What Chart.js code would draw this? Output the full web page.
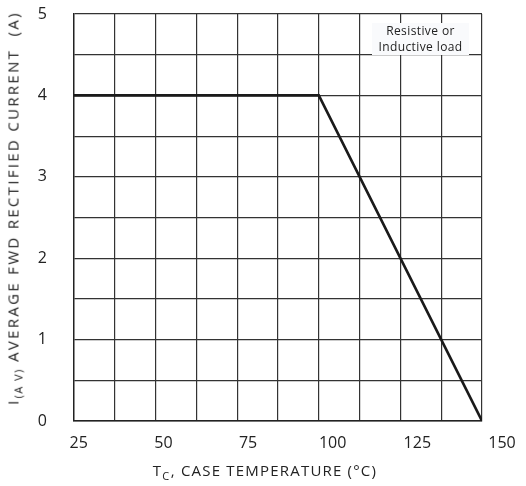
<!DOCTYPE html>
<html>
<head>
<meta charset="utf-8">
<script src="https://cdn.jsdelivr.net/npm/chart.js@4.4.1/dist/chart.umd.min.js"></script>
<style>
  body { margin: 0; background: #fff; }
  #wrap { position: relative; width: 526px; height: 486px; font-family: "Open Sans", sans-serif; color: #222; }
  #c { position: absolute; left: 0; top: 0; }
  .ytitle {
    position: absolute; left: 14px; top: 208px;
    transform: translate(-50%, -50%) rotate(-90deg);
    white-space: nowrap; font-size: 15px; letter-spacing: 2.3px;
  }
  .xtitle {
    position: absolute; left: 265px; top: 471px;
    transform: translate(-50%, -50%);
    white-space: nowrap; font-size: 15px; letter-spacing: 1.2px;
  }
  sub { font-size: 11px; letter-spacing: 1.5px; }
  .note {
    position: absolute; left: 372px; top: 23px; width: 97px; height: 32px;
    background: #f9fafc; font-size: 12px; line-height: 16px; text-align: center;
    letter-spacing: 0.4px;
  }
</style>
</head>
<body>
<div id="wrap">
  <canvas id="c" width="526" height="486"></canvas>
  <div class="ytitle">I<sub>(A V)</sub> AVERAGE FWD RECTIFIED CURRENT&nbsp; (A)</div>
  <div class="xtitle">T<sub>C</sub>, CASE TEMPERATURE (°C)</div>
  <div class="note">Resistive or<br>Inductive load</div>
</div>
<script>
// derating curve
const caseTemp = [25, 100, 150];
const avgCurrent = [4, 4, 0];

// tick labels printed under the plot
const xTickLabels = [25, 50, 75, 100, 125, 150];
const yTickLabels = [0, 1, 2, 3, 4, 5];

const points = caseTemp.map((t, i) => ({ x: t, y: avgCurrent[i] }));

const ctx = document.getElementById('c').getContext('2d');

new Chart(ctx, {
  type: 'line',
  data: {
    datasets: [{
      data: points,
      borderColor: '#1a1a1a',
      borderWidth: 2.6,
      pointRadius: 0,
      tension: 0,
      fill: false
    }]
  },
  options: {
    responsive: false,
    animation: false,
    layout: { padding: { top: 14, right: 44, left: 0, bottom: 0 } },
    plugins: { legend: { display: false }, tooltip: { enabled: false } },
    scales: {
      x: {
        type: 'linear',
        min: 25,
        max: 150,
        ticks: { display: false, stepSize: 12.5 },
        grid: { color: '#333', lineWidth: 1.2, drawTicks: false },
        border: { color: '#222', width: 1.4 },
        afterFit: s => { s.height = 0; s.paddingLeft = 0; s.paddingRight = 0; }
      },
      // labels only, spaced like the printed ones
      xLabels: {
        type: 'linear',
        position: 'bottom',
        min: 23.6,
        max: 144.1,
        afterBuildTicks: s => { s.ticks = xTickLabels.map(v => ({ value: v })); },
        ticks: {
          autoSkip: false,
          maxRotation: 0,
          padding: 13,
          color: '#222',
          font: { family: 'Open Sans', size: 16 }
        },
        grid: { display: false, drawTicks: false },
        border: { display: false },
        afterFit: s => { s.height = 65; s.paddingLeft = 0; s.paddingRight = 0; }
      },
      y: {
        min: 0,
        max: 5,
        ticks: {
          stepSize: 0.5,
          padding: 27,
          color: '#222',
          font: { family: 'Open Sans', size: 16 },
          callback: v => yTickLabels.includes(v) ? v : ''
        },
        grid: { color: '#333', lineWidth: 1.2, drawTicks: false },
        border: { color: '#222', width: 1.4 },
        afterFit: s => { s.width = 74; s.paddingTop = 0; s.paddingBottom = 0; }
      }
    }
  }
});
</script>
</body>
</html>
